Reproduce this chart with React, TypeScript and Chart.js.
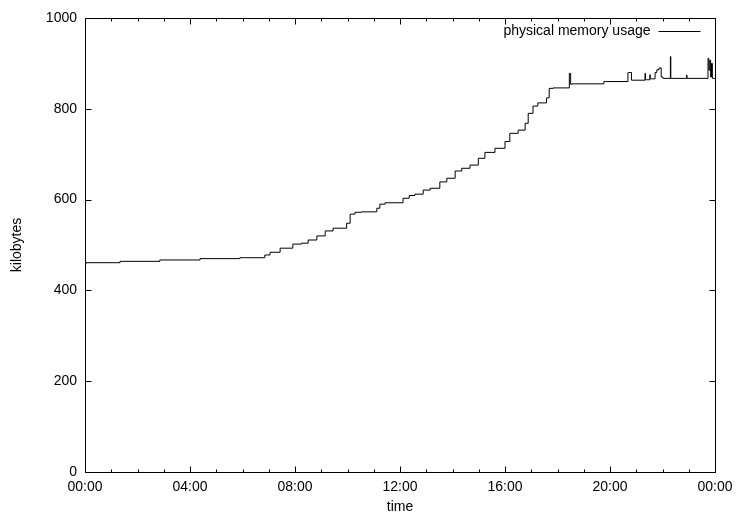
import React, { useEffect, useRef } from "react";
import { Chart, registerables } from "chart.js";

Chart.register(...registerables);

// time of day in minutes since 00:00
const timeMinutes = [
  0, 2, 80, 171, 263, 354, 411, 423, 446, 475, 495, 510, 530, 549, 567, 598,
  606, 617, 632, 667, 674, 686, 727, 741, 754, 773, 789, 811, 827, 846, 861,
  880, 899, 914, 937, 960, 971, 990, 1006, 1013, 1024, 1035, 1055, 1061, 1070,
  1107, 1110, 1113, 1186, 1189, 1241, 1242, 1249, 1250, 1280, 1281, 1283, 1291,
  1292, 1295, 1303, 1307, 1312, 1317, 1321, 1323, 1338, 1339, 1342, 1375, 1376,
  1378, 1424, 1426, 1428, 1430, 1432, 1434, 1436, 1440,
];

// physical memory usage in kilobytes
const memoryKB = [
  452, 458, 461, 464, 467, 470, 472, 478, 484, 493, 502, 504, 511, 520, 531, 537,
  548, 568, 572, 573, 581, 590, 593, 603, 609, 612, 621, 625, 639, 647, 663,
  669, 676, 691, 704, 713, 728, 746, 753, 768, 790, 806, 813, 824, 845,
  846, 878, 854, 855, 860, 860, 880, 880, 863, 863, 878, 864, 864,
  875, 866, 866, 880, 886, 890, 870, 867, 867, 915, 867, 867, 874,
  867, 867, 911, 885, 907, 870, 900, 867, 867,
];

const xTickLabels = ["00:00", "04:00", "08:00", "12:00", "16:00", "20:00", "00:00"];
const yTickValues = [0, 200, 400, 600, 800, 1000];
const seriesLabel = "physical memory usage";
const xTitle = "time";
const yTitle = "kilobytes";

const FONT_FAMILY = "'Liberation Sans', Arial, Helvetica, sans-serif";
const FONT_SIZE = 14;

const framePlugin = {
  id: "gnuplotFrame",
  afterDraw(chart: any) {
    const { ctx, chartArea: a, scales } = chart;
    const xs = scales.x;
    const ys = scales.y;
    const L = Math.round(a.left) + 0.5;
    const R = Math.round(a.right) + 0.5;
    const T = Math.round(a.top) + 0.5;
    const B = Math.round(a.bottom) + 0.5;
    ctx.save();
    ctx.strokeStyle = "#000";
    ctx.lineWidth = 1;
    ctx.beginPath();
    ctx.rect(L, T, R - L, B - T);
    for (let h = 0; h <= 24; h++) {
      const px = Math.round(xs.getPixelForValue(h * 60)) + 0.5;
      const len = h % 4 === 0 ? 6 : 3;
      ctx.moveTo(px, B);
      ctx.lineTo(px, B - len);
      ctx.moveTo(px, T);
      ctx.lineTo(px, T + len);
    }
    for (const v of yTickValues) {
      const py = Math.round(ys.getPixelForValue(v)) + 0.5;
      ctx.moveTo(L, py);
      ctx.lineTo(L + 6, py);
      ctx.moveTo(R, py);
      ctx.lineTo(R - 6, py);
    }
    ctx.stroke();

    // key (gnuplot style: text then line sample, top right inside the plot)
    const keyY = Math.round(a.top + 13) + 0.5;
    const lineEnd = R - 15;
    const lineStart = lineEnd - 42;
    ctx.font = `${FONT_SIZE}px ${FONT_FAMILY}`;
    ctx.fillStyle = "#000";
    ctx.textAlign = "right";
    ctx.textBaseline = "middle";
    ctx.fillText(chart.data.datasets[0].label, lineStart - 8, keyY);
    ctx.beginPath();
    ctx.moveTo(lineStart, keyY);
    ctx.lineTo(lineEnd, keyY);
    ctx.stroke();
    ctx.restore();
  },
};

export default function App() {
  const canvasRef = useRef<HTMLCanvasElement | null>(null);

  useEffect(() => {
    if (!canvasRef.current) return;
    const points = timeMinutes.map((t, i) => ({ x: t, y: memoryKB[i] }));
    const font = { family: FONT_FAMILY, size: FONT_SIZE };
    const chart = new Chart(canvasRef.current, {
      type: "line",
      data: {
        datasets: [
          {
            label: seriesLabel,
            data: points,
            borderColor: "#000",
            backgroundColor: "#000",
            borderWidth: 1,
            pointRadius: 0,
            stepped: "after",
            fill: false,
          },
        ],
      },
      options: {
        animation: false,
        responsive: true,
        maintainAspectRatio: false,
        layout: { padding: { top: 18, right: 21, left: 0, bottom: 0 } },
        plugins: {
          tooltip: { enabled: false },
          legend: { display: false },
        },
        scales: {
          x: {
            type: "linear",
            min: 0,
            max: 1440,
            grid: { display: false, drawTicks: false },
            border: { display: false },
            ticks: {
              stepSize: 240,
              autoSkip: false,
              maxRotation: 0,
              padding: 7,
              color: "#000",
              font,
              callback: (_v: any, i: number) => xTickLabels[i],
            },
            title: {
              display: true,
              text: xTitle,
              color: "#000",
              font,
              padding: { top: 0, bottom: 3 },
            },
            afterFit: (s: any) => {
              s.height = 47;
              s.paddingLeft = 0;
              s.paddingRight = 0;
            },
          },
          y: {
            type: "linear",
            min: 0,
            max: 1000,
            grid: { display: false, drawTicks: false },
            border: { display: false },
            ticks: {
              stepSize: 200,
              padding: 8,
              color: "#000",
              font,
              callback: (v: any) => String(v),
            },
            title: {
              display: true,
              text: yTitle,
              color: "#000",
              font,
              padding: { top: 9, bottom: 0 },
            },
            afterFit: (s: any) => {
              s.width = 85;
              s.paddingTop = 0;
              s.paddingBottom = 0;
            },
          },
        },
      },
      plugins: [framePlugin],
    });
    return () => chart.destroy();
  }, []);

  return (
    <div
      style={{
        position: "absolute",
        left: 0,
        top: 0,
        width: 736,
        height: 519,
        background: "#fff",
      }}
    >
      <canvas ref={canvasRef} />
    </div>
  );
}
